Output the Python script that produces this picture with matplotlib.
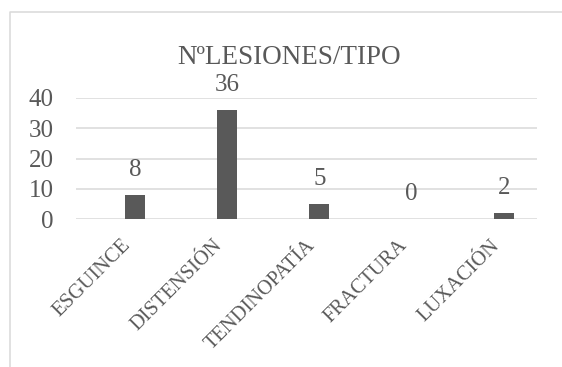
import matplotlib.pyplot as plt
import numpy as np
from matplotlib.lines import Line2D
from matplotlib.transforms import ScaledTranslation

# Lesiones por tipo
tipos = ['ESGUINCE', 'DISTENSIÓN', 'TENDINOPATÍA', 'FRACTURA', 'LUXACIÓN']
lesiones = [8, 36, 5, 0, 2]
y_ticks = [0, 10, 20, 30, 40]
titulo = 'NºLESIONES/TIPO'

TEXT = '#595959'
BAR = '#595959'
GRID = '#d9d9d9'

plt.rcParams['font.family'] = ['Liberation Serif', 'DejaVu Serif']

fig = plt.figure(figsize=[5.62, 3.67], dpi=100)

# marco del gráfico: solo se ven el borde izquierdo y el superior
bx, by = 9.5 / 562, 1 - 11.5 / 367
fig.lines.append(Line2D([bx, bx, 1.0], [0.0, by, by], transform=fig.transFigure,
                        color=GRID, linewidth=1.1))

ax = fig.add_axes([76 / 562, (367 - 219.3) / 367, 461 / 562, 121.6 / 367])

x = np.arange(len(tipos))
bars = ax.bar(x, lesiones, width=0.217, color=BAR, zorder=3)

ax.set_ylim(0, 40)
ax.set_xlim(-0.64, 4.36)
ax.set_yticks(y_ticks)
ax.yaxis.grid(True, color=GRID, linewidth=1.1, zorder=0)
for s in ax.spines.values():
    s.set_visible(False)
ax.tick_params(axis='y', length=0, pad=16, labelsize=18, labelcolor=TEXT)
ax.tick_params(axis='x', length=0, pad=12, labelsize=14.8, labelcolor=TEXT)

ax.set_xticks(x)
ax.set_xticklabels(tipos, rotation=45, ha='right', va='top', rotation_mode='anchor')
offset = ScaledTranslation(-14 / 100, 0, fig.dpi_scale_trans)
for lbl in ax.get_xticklabels():
    lbl.set_transform(lbl.get_transform() + offset)

for xi, v in zip(x, lesiones):
    ax.annotate(str(v), (xi, v), xytext=(0, 18), textcoords='offset points',
                ha='center', va='center', fontsize=18, color=TEXT)

fig.text(289 / 562, 1 - 64 / 367, titulo, ha='center', va='baseline',
         fontsize=19.5, color=TEXT)

fig.savefig('out.png', dpi=100)
